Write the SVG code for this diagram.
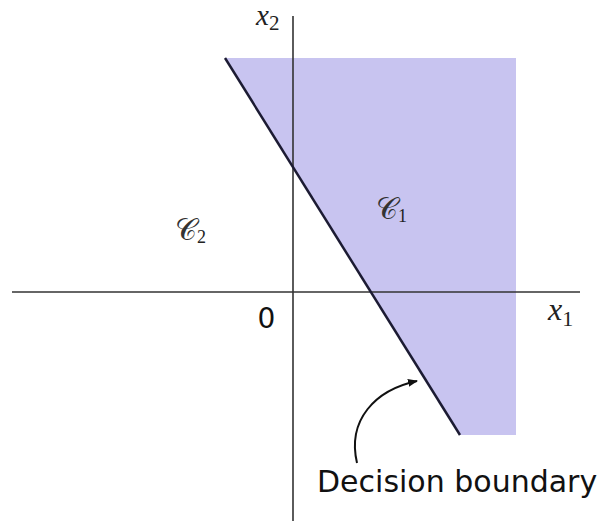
<svg xmlns="http://www.w3.org/2000/svg" width="601" height="524" viewBox="0 0 601 524">
<style>
.axis{stroke:#333;stroke-width:1.6;fill:none}
.math{font-family:"Liberation Serif","DejaVu Serif",serif;font-style:italic;fill:#222}
.sub{font-family:"Liberation Serif","DejaVu Serif",serif;font-style:normal;fill:#222}
.scr{font-family:"DejaVu Sans","DejaVu Serif",serif;fill:#333}
.lbl{font-family:"DejaVu Sans",sans-serif;fill:#111}
</style>
<defs>
<marker id="ah" markerWidth="10" markerHeight="8" refX="9" refY="4" orient="auto" markerUnits="userSpaceOnUse">
<path d="M0,0 L10,4 L0,8 Z" fill="#111"/>
</marker>
</defs>
<g id="region-c1">
<polygon points="225,58 516,58 516,435 460,435" fill="#c8c4f0"/>
</g>
<g id="axes">
<line class="axis" x1="12" y1="292" x2="580" y2="292"/>
<line class="axis" x1="293" y1="16" x2="293" y2="521"/>
</g>
<g id="boundary">
<line x1="225" y1="58" x2="460" y2="435" stroke="#1c1b33" stroke-width="2.5"/>
</g>
<g id="labels">
<text class="math" x="256" y="25" font-size="29">x<tspan class="sub" font-size="21" dy="5">2</tspan></text>
<text class="math" x="548" y="320" font-size="32">x<tspan class="sub" font-size="22" dy="6">1</tspan></text>
<text class="scr" x="175" y="240" font-size="30">𝒞<tspan class="sub" font-size="18" dy="3">2</tspan></text>
<text class="scr" x="376" y="219" font-size="30">𝒞<tspan class="sub" font-size="18" dy="3">1</tspan></text>
<text class="lbl" x="266.5" y="328" font-size="28" text-anchor="middle">0</text>
<text class="lbl" x="317" y="492" font-size="30">Decision boundary</text>
</g>
<g id="connectors">
<path d="M357,463 C347,420 375,390 417,381" fill="none" stroke="#111" stroke-width="2" marker-end="url(#ah)"/>
</g>
</svg>
